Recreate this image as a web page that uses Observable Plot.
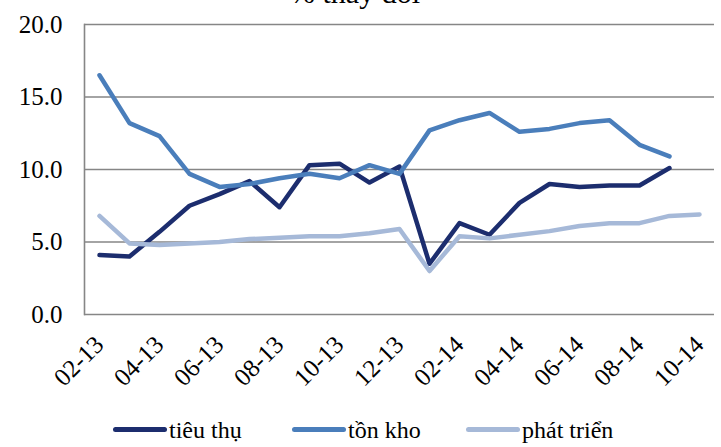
<!DOCTYPE html>
<html>
<head>
<meta charset="utf-8">
<script src="https://cdn.jsdelivr.net/npm/d3@7"></script>
<script src="https://cdn.jsdelivr.net/npm/@observablehq/plot@0.6"></script>
<style>
  html, body { margin: 0; padding: 0; background: #fff; }
  #wrap, #wrap * { font-family: 'Liberation Serif', 'Times New Roman', serif; }
  #wrap { position: relative; width: 721px; height: 447px; overflow: hidden; background: #fff; color: #000; }
  #title { position: absolute; left: 0; width: 710px; text-align: center; top: -22px;
           font-size: 30px; line-height: 30px; white-space: nowrap; }
  #chart { position: absolute; left: 0; top: 0; }
  .leg { position: absolute; top: 418px; font-size: 24px; line-height: 24px; white-space: nowrap;
         display: flex; align-items: center; }
  .leg .sw { display: inline-block; width: 54px; height: 5px; border-radius: 3px; margin-right: 2px; position: relative; top: -1px; }
</style>
</head>
<body>
<div id="wrap">
  <div id="title">% thay đổi</div>
  <div id="chart"></div>
  <div id="legend"></div>
</div>
<script>
const months = ["02-13","03-13","04-13","05-13","06-13","07-13","08-13","09-13","10-13","11-13","12-13",
                "01-14","02-14","03-14","04-14","05-14","06-14","07-14","08-14","09-14","10-14"];
const tickLabels = ["02-13","04-13","06-13","08-13","10-13","12-13","02-14","04-14","06-14","08-14","10-14"];
const seriesNames = ["tiêu thụ", "tồn kho", "phát triển"];
const seriesColors = ["#1c2d6e", "#4a7ebb", "#a6b9d8"];
const tieuThu   = [4.1, 4.0, 5.7, 7.5, 8.3, 9.2, 7.4, 10.3, 10.4, 9.1, 10.2, 3.5, 6.3, 5.5, 7.7, 9.0, 8.8, 8.9, 8.9, 10.1];
const tonKho    = [16.5, 13.2, 12.3, 9.7, 8.8, 9.0, 9.4, 9.7, 9.4, 10.3, 9.7, 12.7, 13.4, 13.9, 12.6, 12.8, 13.2, 13.4, 11.7, 10.9];
const phatTrien = [6.8, 4.9, 4.8, 4.9, 5.0, 5.2, 5.3, 5.4, 5.4, 5.6, 5.9, 3.0, 5.4, 5.25, 5.5, 5.75, 6.1, 6.3, 6.3, 6.8, 6.9];
const yTicks = [0, 5, 10, 15, 20];

const seriesValues = [tieuThu, tonKho, phatTrien];
const rows = seriesValues.flatMap((vals, i) =>
  vals.map((v, j) => ({ month: months[j], value: v, series: seriesNames[i] })));

const chart = Plot.plot({
  width: 721,
  height: 400,
  marginLeft: 84,
  marginRight: 7,
  marginTop: 24,
  marginBottom: 86,
  style: { fontFamily: "Liberation Serif", color: "#000", background: "transparent", overflow: "visible" },
  x: { type: "point", domain: months, padding: 0.5 },
  y: { domain: [0, 20] },
  color: { domain: seriesNames, range: seriesColors },
  marks: [
    Plot.gridY(yTicks, { stroke: "#868686", strokeOpacity: 1, strokeWidth: 1.6 }),
    Plot.frame({ anchor: "left", stroke: "#868686", strokeWidth: 1.6 }),
    Plot.axisY(yTicks, { tickFormat: d3.format(".1f"), tickSize: 0, tickPadding: 22, fontSize: 25, label: null }),
    Plot.axisX(tickLabels, { tickRotate: -45, tickSize: 0, tickPadding: 26, fontSize: 25, label: null }),
    Plot.line(rows, { x: "month", y: "value", z: "series", stroke: "series", strokeWidth: 4.5,
                      strokeLinejoin: "round", strokeLinecap: "round" })
  ]
});
document.getElementById("chart").appendChild(chart);

const legendLefts = [113, 292, 466];
const legend = document.getElementById("legend");
seriesNames.forEach((name, i) => {
  const item = document.createElement("div");
  item.className = "leg";
  item.style.left = legendLefts[i] + "px";
  const sw = document.createElement("span");
  sw.className = "sw";
  sw.style.background = seriesColors[i];
  const tx = document.createElement("span");
  tx.textContent = name;
  item.appendChild(sw);
  item.appendChild(tx);
  legend.appendChild(item);
});
</script>
</body>
</html>
